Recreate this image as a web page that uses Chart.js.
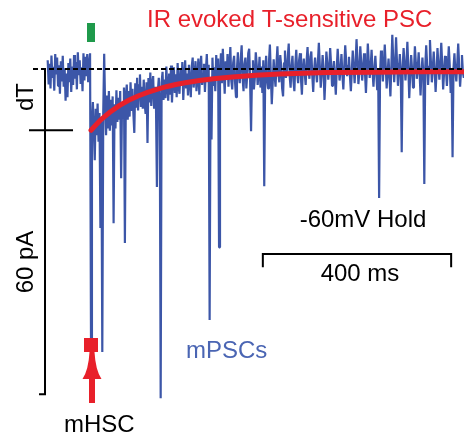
<!DOCTYPE html>
<html>
<head>
<meta charset="utf-8">
<script src="https://cdn.jsdelivr.net/npm/chart.js@4/dist/chart.umd.min.js"></script>
<style>
  html, body { margin: 0; padding: 0; background: #fff; }
</style>
</head>
<body>
<canvas id="trace" width="464" height="441"></canvas>
<script>
// recorded current, one sample every 2 ms, time 0 = mHSC stimulus
const sampleMs = 2;
const traceStartMs = -92;
const tracePA = [
  // before stimulus
  2.0, -3.5, 1.2, -4.4, 3.1, -2.0, 0.5, -4.9, 3.4, -1.2,
  2.6, -3.8, 0.9, -5.6, 1.8, -2.8, 3.0, -4.0, 0.2, -7.2,
  -1.0, -6.4, 1.4, -3.0, 2.4, -5.2, 0.6, -3.6, 3.2, -2.2,
  1.6, -4.6, 3.8, -1.4, 2.0, -3.4, 0.4, -5.0, 3.6, -2.6,
  2.8, -1.6, 3.4, -3.0, 1.0, 3.6,
  // stimulus
  -61.1,
  // evoked PSC and mPSCs
  -12.0, -7.5, -14.0, -20.7, -9.0, -15.0, -7.8, -16.5, -10.0, -36.1,
  -12.0, -64.3, -10.0, 3.5, -8.5, -15.0, -6.0, -13.5, -5.0, -14.0,
  -7.0, -12.8, -6.2, -35.0, -8.0, -13.5, -4.8, -12.0, -6.5, -11.5,
  -5.0, -24.8, -7.5, -11.0, -4.2, -39.5, -6.0, -3.5, -11.5, -5.0,
  -10.8, -3.0, -9.5, -4.5, -10.0, -14.5, -3.2, -8.8, -2.0, -9.4,
  -3.6, -1.2, -8.6, -4.0, -9.0, -2.4, -7.8, -10.2, -3.0, -16.8,
  -2.0, -7.6, -0.8, -8.4, -3.4, -1.6, -9.0, -4.0, -8.0, -26.8,
  -5.0, -2.0, -7.8, -74.8, -3.0, -0.6, -7.0, -2.4, -6.6, 0.6,
  -4.0, -7.2, -1.0, -5.8, 0.8, -7.6, -2.6, 0.4, -5.4, -1.2,
  -6.4, 1.4, -4.0, -5.6, 0.0, -3.2, 1.6, -7.0, -2.0, 2.0,
  -4.4, -1.0, -6.0, 1.0, -3.0, -6.4, 0.6, 2.6, -4.2, -1.6,
  1.8, -5.0, -2.4, 2.4, -5.8, 0.2, 3.0, -3.6, -1.0, 1.2,
  -5.2, -0.4, 3.4, -3.0, 1.0, -57.0, -2.0, -16.0, 2.6, -3.8,
  0.4, -5.0, 3.2, -1.8, 2.4, -40.5, -1.0, 3.6, -3.2, 4.6,
  -0.6, -5.6, 1.8, -2.2, 3.4, -4.0, 0.8, 5.0, -2.6, -4.6,
  1.4, 3.0, -3.0, -6.4, 0.0, 3.8, -1.6, -3.2, 2.2, 5.4,
  -2.0, -5.0, 1.2, 2.6, -4.4, -1.0, 3.6, 4.6, -2.8, -14.1,
  -1.2, 2.0, -4.6, -2.0, 3.8, 1.0, -3.6, -1.0, 2.8, -4.2,
  0.6, -5.4, 2.0, -26.6, -1.0, 3.0, -2.6, -4.4, 1.6, 5.6,
  -1.4, -8.0, -3.0, 2.2, -1.4, -4.0, 1.2, 5.2, -0.8, -3.0,
  3.2, 0.6, -4.4, -6.2, 1.4, 4.2, -2.0, -0.4, 2.8, 5.8,
  -1.6, -4.2, 0.8, 3.0, -2.6, -5.0, 1.0, 4.4, -1.0, -3.2,
  2.0, 3.6, -2.2, -5.8, 0.4, 2.4, -1.0, -3.6, 1.8, 5.0,
  0.0, -2.2, 2.8, 4.0, -1.4, -5.2, -0.2, 2.6, -0.6, -3.0,
  1.6, 6.0, 0.8, -4.2, -1.0, 3.2, -0.4, -7.0, -1.6, 4.0,
  1.2, -2.4, 0.0, 4.8, 1.0, -3.8, -0.6, 1.8, -2.0, -5.8,
  0.2, 4.6, 1.0, -2.6, -0.2, 3.4, -1.2, -4.6, 0.6, 5.4,
  1.8, -1.6, 0.8, 2.8, -1.6, -5.0, -0.4, 4.2, 0.4, -3.2,
  1.2, 6.8, 2.0, -3.4, -0.6, 5.2, 1.4, -2.6, 0.2, 3.6,
  -0.8, -5.4, -0.2, 5.8, 1.6, -2.0, 0.4, 4.4, -0.4, -4.0,
  0.0, 3.0, -1.0, -4.8, -0.6, -29.3, -1.2, 4.2, 0.6, -2.8,
  1.0, 5.6, 0.8, -4.4, -1.0, 2.4, -1.6, -6.2, 0.6, 7.8,
  2.0, -3.0, 1.0, 7.2, 1.4, -3.8, -0.4, 3.4, -1.0, -18.9,
  0.4, 4.8, 1.2, -2.6, 1.0, 6.2, 0.6, -6.6, -1.4, 3.2,
  0.0, -4.2, -0.6, 5.2, 1.4, -2.2, 0.0, 3.8, -1.0, -6.0,
  -0.8, 2.6, -1.4, -26.1, 0.4, 5.4, 1.0, -3.6, 0.6, 6.6,
  1.6, -3.0, 0.2, 4.0, -0.4, -5.2, -0.6, 4.8, 0.8, -2.4,
  1.4, 6.0, 1.2, -4.6, -0.8, 3.0, -0.2, -3.8, 0.6, 5.2,
  0.8, -5.4, -1.0, -20.0, 0.2, 3.6, -0.6, -2.8, 1.2, 5.8,
  1.0, -4.0, -0.4, 3.2, -0.8, -2.0
];

// exponential fit of the evoked T-sensitive PSC
const fitMs = [0, 20, 40, 60, 80, 100, 120, 140, 160, 180, 200, 230, 260, 300, 350, 400, 500, 600, 700, 792];
const fitPA = [-13.9, -11.6, -9.8, -8.3, -7.1, -6.1, -5.3, -4.6, -4.0, -3.5, -3.1, -2.6, -2.2, -1.8, -1.4, -1.1, -0.8, -0.7, -0.6, -0.6];

// scale bars
const timeBarMs = [365, 765];
const timeBarPA = -42;
const dTPA = -13.9;
const currentBarPA = 60;
const currentBarMs = -97.7;

const blue = "#3c56a8";
const red = "#e8202a";
const font = "24px 'Liberation Sans', Arial, sans-serif";

const traceData = tracePA.map((v, i) => ({ x: traceStartMs + i * sampleMs, y: v }));
const fitData = fitMs.map((t, i) => ({ x: t, y: fitPA[i] }));

function lineSet(points, opts) {
  return Object.assign({
    data: points,
    borderColor: "#000",
    borderWidth: 2,
    pointRadius: 0,
    tension: 0,
    fill: false
  }, opts);
}

const labels = {
  id: "labels",
  afterDatasetsDraw(chart) {
    const c = chart.ctx;
    const sx = chart.scales.x;
    const cx = sx.getPixelForValue(0);
    c.save();

    // green light pulse
    c.fillStyle = "#1f9a4b";
    c.fillRect(cx - 4, 23, 8, 19);

    // red stimulus marker and arrow
    c.fillStyle = red;
    c.fillRect(cx - 7, 338, 14, 14);
    const ax = cx + 1;
    c.beginPath();
    c.moveTo(ax - 2.5, 352);
    c.lineTo(ax + 2.5, 352);
    c.quadraticCurveTo(ax + 3.5, 370, ax + 9.5, 379);
    c.lineTo(ax - 9.5, 379);
    c.quadraticCurveTo(ax - 3.5, 370, ax - 2.5, 352);
    c.fill();
    c.fillRect(ax - 3, 378, 6, 25);

    c.font = font;
    c.textBaseline = "alphabetic";

    c.fillStyle = red;
    c.textAlign = "left";
    c.fillText("IR evoked T-sensitive PSC", 147, 27);

    c.fillStyle = "#000";
    c.textAlign = "center";
    c.fillText("-60mV Hold", 363, 227);
    c.fillText("400 ms", 360, 281);
    c.textAlign = "left";
    c.fillText("mHSC", 64, 432);

    c.fillStyle = "#4a65b3";
    c.fillText("mPSCs", 186, 358);

    c.fillStyle = "#000";
    c.textAlign = "center";
    c.translate(33, 97);
    c.rotate(-Math.PI / 2);
    c.fillText("dT", 0, 0);
    c.rotate(Math.PI / 2);
    c.translate(0, 165);
    c.rotate(-Math.PI / 2);
    c.fillText("60 pA", 0, 0);
    c.restore();
  }
};

new Chart(document.getElementById("trace"), {
  type: "line",
  data: {
    datasets: [
      lineSet(traceData, { borderColor: blue, borderWidth: 2.2, borderJoinStyle: "bevel", order: 4 }),
      lineSet(fitData, { borderColor: red, borderWidth: 5, borderCapStyle: "round", order: 3 }),
      lineSet([{ x: -123.2, y: 0 }, { x: 792.3, y: 0 }], { borderDash: [5, 3], order: 2 }),
      lineSet([{ x: currentBarMs, y: 0 }, { x: currentBarMs, y: dTPA - currentBarPA }, { x: currentBarMs - 12.7, y: dTPA - currentBarPA }], { order: 1 }),
      lineSet([{ x: -131.7, y: dTPA }, { x: -38.2, y: dTPA }], { order: 1 }),
      lineSet([{ x: timeBarMs[0], y: timeBarPA - 3 }, { x: timeBarMs[0], y: timeBarPA }, { x: timeBarMs[1], y: timeBarPA }, { x: timeBarMs[1], y: timeBarPA - 3 }], { order: 1 })
    ]
  },
  options: {
    responsive: false,
    animation: false,
    layout: { padding: 0 },
    plugins: { legend: { display: false }, tooltip: { enabled: false } },
    scales: {
      x: { type: "linear", min: -193.3, max: 792.3, display: false },
      y: { min: -84.5, max: 15.7, display: false }
    }
  },
  plugins: [labels]
});
</script>
</body>
</html>
